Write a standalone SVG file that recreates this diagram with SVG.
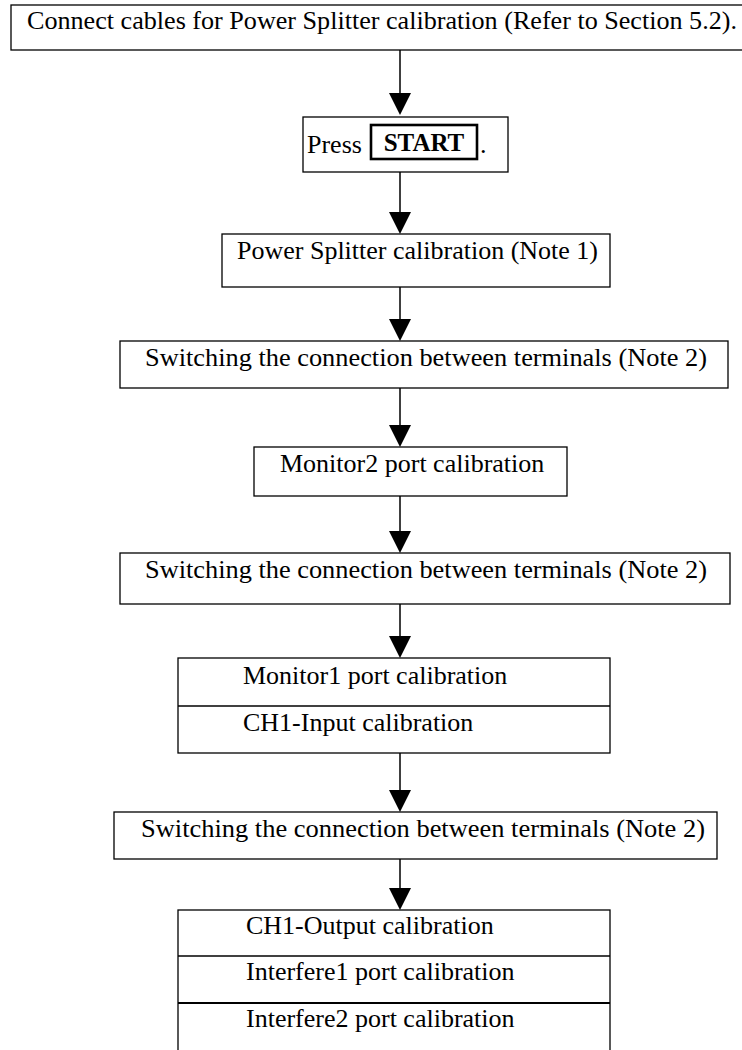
<svg xmlns="http://www.w3.org/2000/svg" width="742" height="1050" viewBox="0 0 742 1050">
<style>
  .box { fill: #ffffff; stroke: #000000; stroke-width: 1.3; }
  .key { fill: none; stroke: #000000; stroke-width: 2.6; }
  .t { font-family: "Liberation Serif", "Times New Roman", serif; font-size: 26px; fill: #000000; }
  .b { font-family: "Liberation Serif", "Times New Roman", serif; font-size: 25px; font-weight: bold; fill: #000000; }
  .c { stroke: #000000; stroke-width: 1.5; fill: none; }
  .h { fill: #000000; stroke: none; }
</style>
<rect x="0" y="0" width="742" height="1050" fill="#ffffff"/>

<g id="connectors">
  <line class="c" x1="400" y1="50" x2="400" y2="94"/>
  <polygon class="h" points="389,93 411,93 400,115"/>
  <line class="c" x1="400" y1="172" x2="400" y2="213"/>
  <polygon class="h" points="389,212 411,212 400,234"/>
  <line class="c" x1="400" y1="287" x2="400" y2="320"/>
  <polygon class="h" points="389,319 411,319 400,341"/>
  <line class="c" x1="400" y1="388" x2="400" y2="426"/>
  <polygon class="h" points="389,425 411,425 400,447"/>
  <line class="c" x1="400" y1="496" x2="400" y2="532"/>
  <polygon class="h" points="389,531 411,531 400,553"/>
  <line class="c" x1="400" y1="604" x2="400" y2="637"/>
  <polygon class="h" points="389,636 411,636 400,658"/>
  <line class="c" x1="400" y1="753" x2="400" y2="791"/>
  <polygon class="h" points="389,790 411,790 400,812"/>
  <line class="c" x1="400" y1="859" x2="400" y2="889"/>
  <polygon class="h" points="389,888 411,888 400,910"/>
</g>

<g id="n1">
  <rect class="box" x="11" y="5" width="745" height="45"/>
  <text class="t" x="27" y="29" textLength="710" lengthAdjust="spacingAndGlyphs">Connect cables for Power Splitter calibration (Refer to Section 5.2).</text>
</g>

<g id="n2">
  <rect class="box" x="303" y="117" width="205" height="55"/>
  <text class="t" x="307" y="153">Press</text>
  <rect class="key" x="371" y="125" width="106" height="34"/>
  <text class="b" x="424" y="151" text-anchor="middle">START</text>
  <text class="t" x="480" y="153">.</text>
</g>

<g id="n3">
  <rect class="box" x="222" y="234" width="388" height="53"/>
  <text class="t" x="237" y="259" textLength="361" lengthAdjust="spacingAndGlyphs">Power Splitter calibration (Note 1)</text>
</g>

<g id="n4">
  <rect class="box" x="120" y="341" width="608" height="47"/>
  <text class="t" x="145" y="366" textLength="562" lengthAdjust="spacingAndGlyphs">Switching the connection between terminals (Note 2)</text>
</g>

<g id="n5">
  <rect class="box" x="254" y="447" width="313" height="49"/>
  <text class="t" x="280" y="472">Monitor2 port calibration</text>
</g>

<g id="n6">
  <rect class="box" x="120" y="553" width="610" height="51"/>
  <text class="t" x="145" y="578" textLength="562" lengthAdjust="spacingAndGlyphs">Switching the connection between terminals (Note 2)</text>
</g>

<g id="n7">
  <rect class="box" x="178" y="658" width="432" height="95"/>
  <line class="box" x1="178" y1="706" x2="610" y2="706"/>
  <text class="t" x="243" y="684">Monitor1 port calibration</text>
  <text class="t" x="243" y="731">CH1-Input calibration</text>
</g>

<g id="n8">
  <rect class="box" x="114" y="812" width="603" height="47"/>
  <text class="t" x="141" y="837" textLength="564" lengthAdjust="spacingAndGlyphs">Switching the connection between terminals (Note 2)</text>
</g>

<g id="n9">
  <rect class="box" x="178" y="910" width="432" height="150"/>
  <line class="box" x1="178" y1="956" x2="610" y2="956"/>
  <line class="box" x1="178" y1="1003" x2="610" y2="1003" style="stroke-width:2"/>
  <text class="t" x="246" y="934">CH1-Output calibration</text>
  <text class="t" x="246" y="980">Interfere1 port calibration</text>
  <text class="t" x="246" y="1027">Interfere2 port calibration</text>
</g>
</svg>
